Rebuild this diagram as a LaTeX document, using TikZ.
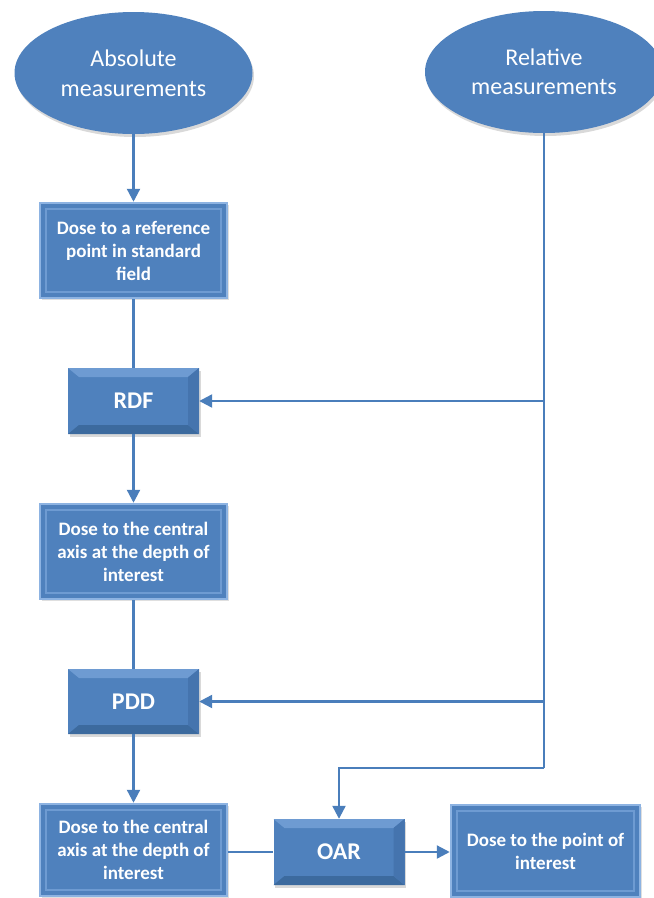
\documentclass[tikz,border=0pt]{standalone}
\usepackage{fontspec}
\setmainfont{Carlito}
\usetikzlibrary{arrows.meta,shadows,shapes.geometric}
\definecolor{ofblue}{HTML}{4F81BD}
\definecolor{ofline}{HTML}{4A7EBB}
\definecolor{oflight}{HTML}{8DB3E2}
\definecolor{ofdark}{HTML}{3C6A9E}
\definecolor{ofmid}{HTML}{4574AE}
\definecolor{ofhi}{HTML}{6E9BD2}
\begin{document}
\begin{tikzpicture}[x=1pt,y=-1pt,
  oval/.style={ellipse, fill=ofblue, minimum width=238pt, minimum height=122pt,
    text=white, align=center, font=\fontsize{24}{29.5}\selectfont,
    drop shadow={opacity=0.3, shadow xshift=1.5pt, shadow yshift=-3pt}},
  framebox/.style={rectangle, fill=ofblue, draw=oflight, line width=2.5pt,
    minimum width=187pt, align=center, text=white,
    font=\bfseries\fontsize{19}{23}\selectfont,
    drop shadow={opacity=0.25, shadow xshift=1.5pt, shadow yshift=-2pt},
    path picture={
      \draw[ofhi, line width=1.5pt]
        ([xshift=6pt,yshift=-6pt]path picture bounding box.north west) rectangle
        ([xshift=-6pt,yshift=6pt]path picture bounding box.south east);}},
  bevel/.style={rectangle, fill=ofblue, minimum width=131pt, minimum height=66pt,
    text=white, font=\bfseries\fontsize{24}{29}\selectfont,
    drop shadow={opacity=0.3, shadow xshift=1.5pt, shadow yshift=-3pt},
    path picture={
      \fill[ofhi] (path picture bounding box.north west) -- (path picture bounding box.north east)
        -- ([xshift=-11pt,yshift=-9pt]path picture bounding box.north east)
        -- ([xshift=11pt,yshift=-9pt]path picture bounding box.north west) -- cycle;
      \fill[ofdark] (path picture bounding box.south west) -- (path picture bounding box.south east)
        -- ([xshift=-11pt,yshift=9pt]path picture bounding box.south east)
        -- ([xshift=11pt,yshift=9pt]path picture bounding box.south west) -- cycle;
      \fill[ofmid] (path picture bounding box.north east) -- (path picture bounding box.south east)
        -- ([xshift=-11pt,yshift=9pt]path picture bounding box.south east)
        -- ([xshift=-11pt,yshift=-9pt]path picture bounding box.north east) -- cycle;}},
  conn/.style={draw=ofline, line width=2.3pt},
  arr/.style={conn, -{Triangle[width=13pt,length=13pt]}}
]
\useasboundingbox (0,0) rectangle (654,898);
\clip (0,0) rectangle (654,898);

\node[oval] (ellA) at (133.5,73) {Absolute\\measurements};
\node[oval] (ellR) at (544,72) {Relative\\measurements};

\node[framebox, minimum height=95pt] (box1) at (133.5,250.5) {Dose to a reference\\point in standard\\field};
\node[bevel] (rdf) at (133.5,401) {RDF};
\node[framebox, minimum height=95pt] (box2) at (133.5,551.5) {Dose to the central\\axis at the depth of\\interest};
\node[bevel, minimum height=65pt] (pdd) at (133.5,701.5) {PDD};
\node[framebox, minimum height=92pt] (box3) at (133.5,850) {Dose to the central\\axis at the depth of\\interest};
\node[bevel] (oar) at (339,852) {OAR};
\node[framebox, minimum width=189pt, minimum height=92pt] (box4) at (545.5,851) {Dose to the point of\\interest};

\coordinate (jB) at (544,768);

\draw[arr] (ellA.south) -- (box1.north);
\draw[conn] (box1.south) -- (rdf.north);
\draw[arr] (rdf.south) -- (box2.north);
\draw[conn] (box2.south) -- (pdd.north);
\draw[arr] (pdd.south) -- (box3.north);

\draw[conn] (ellR.south) -- (jB);
\draw[arr] (ellR.south |- rdf.east) -- (rdf.east);
\draw[arr] (ellR.south |- pdd.east) -- (pdd.east);
\draw[arr] (jB) -| (oar.north);

\draw[conn] (box3.east |- oar.west) -- (oar.west);
\draw[arr] (oar.east) -- (box4.west |- oar.east);
\end{tikzpicture}
\end{document}
